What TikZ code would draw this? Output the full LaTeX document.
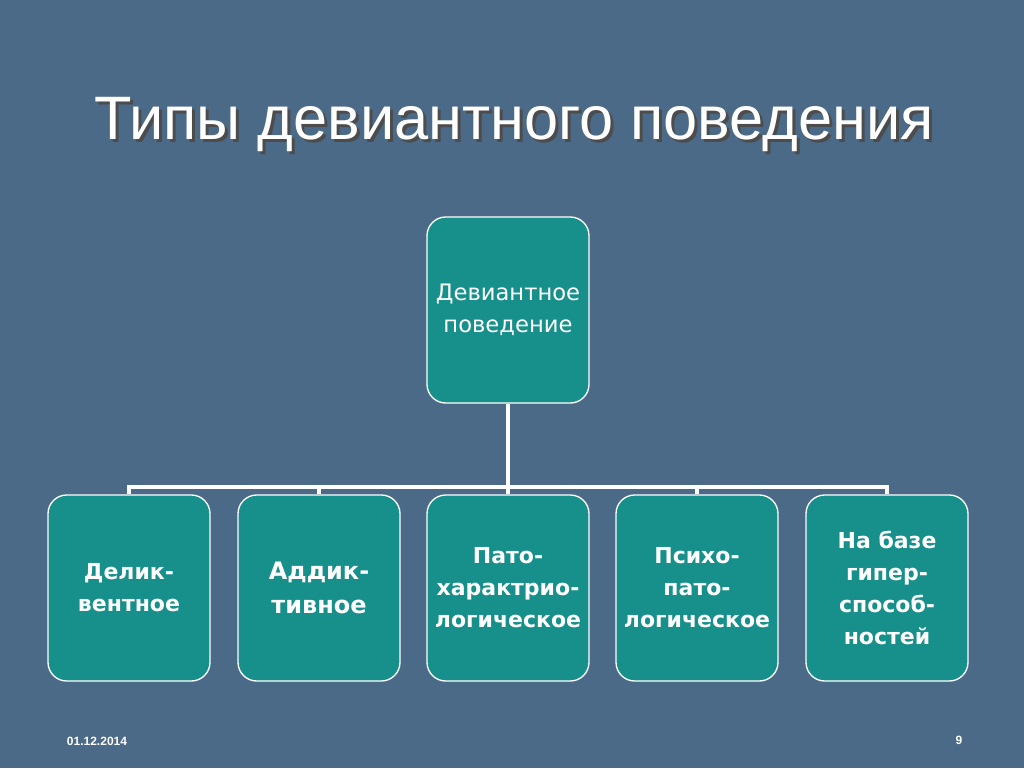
\documentclass[tikz,border=0pt]{standalone}
\usepackage{fontspec}
\setmainfont{Liberation Sans}
\newfontfamily\dvs{DejaVu Sans}
\begin{document}
\begin{tikzpicture}[x=0.75pt,y=-0.75pt,
  box/.style={draw=white,line width=1pt,fill=boxc,rounded corners=14pt,minimum width=121.5pt,minimum height=139.5pt,text=white,align=center,font=\dvs\fontsize{16.5}{24}\selectfont\bfseries,inner sep=0pt},
  con/.style={draw=white,line width=3pt}]
\definecolor{bg}{HTML}{4B6A88}
\definecolor{boxc}{HTML}{17908C}
\fill[bg] (0,0) rectangle (1024,768);
\useasboundingbox (0,0) rectangle (1024,768);
\node[text=black!70,font=\fontsize{46}{52}\selectfont] (ts) at (517,128) {Типы девиантного поведения};
\node[text=white,font=\fontsize{46}{52}\selectfont] (t) at (514,125) {Типы девиантного поведения};
\node[box,font=\dvs\fontsize{17}{24}\selectfont] (top) at (508,310) {Девиантное\\поведение};
\node[box] (b1) at (129,588) {Делик-\\вентное};
\node[box,font=\dvs\fontsize{18}{25}\selectfont\bfseries] (b2) at (319,588) {Аддик-\\тивное};
\node[box] (b3) at (508,588) {Пато-\\характрио-\\логическое};
\node[box] (b4) at (697,588) {Психо-\\пато-\\логическое};
\node[box] (b5) at (887,588) {На базе\\гипер-\\способ-\\ностей};
\coordinate (h) at (508,487);
\draw[con] (top.south) -- (h);
\draw[con] (b1.north) |- (h) -| (b5.north);
\foreach \b in {b2,b3,b4} \draw[con] (\b.north) -- (\b.north |- h);
\node[text=white,font=\fontsize{9}{10}\selectfont\bfseries] (d) at (97,741) {01.12.2014};
\node[text=white,font=\fontsize{9}{10}\selectfont\bfseries] (n) at (959,740) {9};
\end{tikzpicture}
\end{document}
